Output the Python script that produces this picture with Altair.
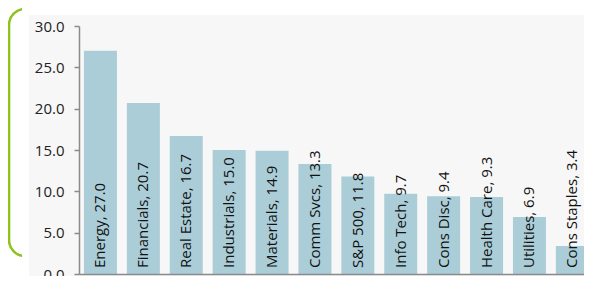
import altair as alt
import pandas as pd

sectors = ["Energy", "Financials", "Real Estate", "Industrials", "Materials", "Comm Svcs",
           "S&P 500", "Info Tech", "Cons Disc", "Health Care", "Utilities", "Cons Staples"]
values = [27.0, 20.7, 16.7, 15.0, 14.9, 13.3, 11.8, 9.7, 9.4, 9.3, 6.9, 3.4]
y_ticks = [0, 5, 10, 15, 20, 25, 30]

df = pd.DataFrame({"sector": sectors, "value": values})
df["pos"] = list(range(len(sectors)))
df["label"] = [f"{s}, {v:.1f}" for s, v in zip(sectors, values)]

FONT = "Open Sans"
PLOT_H = 248
PLOT_W = 505
STEP = 42.9           # px per category slot
BAR_W = 33.0

deco = alt.Data(values=[{"k": 1}])

bracket = alt.Chart(deco).mark_rect(
    fill=None, stroke="#8dc21f", strokeWidth=2.6, cornerRadius=16
).encode(
    x=alt.value(-70), x2=alt.value(-19), y=alt.value(-17), y2=alt.value(230)
)

trim = alt.Chart(deco).mark_rect(fill="white").encode(
    x=alt.value(-57), x2=alt.value(700), y=alt.value(-40), y2=alt.value(400)
)

panel = alt.Chart(deco).mark_rect(fill="#f7f7f7").encode(
    x=alt.value(-50), x2=alt.value(700), y=alt.value(-11), y2=alt.value(400)
)

xscale = alt.Scale(domain=[-0.5, -0.5 + PLOT_W / STEP], nice=False, zero=False, padding=0)

bars = alt.Chart(df).mark_bar(color="#abcdd8", size=BAR_W).encode(
    x=alt.X("pos:Q", scale=xscale,
            axis=alt.Axis(title=None, labels=False, ticks=False, grid=False,
                          domainColor="#8a8a8a", domainWidth=1.5, zindex=1)),
    y=alt.Y("value:Q", scale=alt.Scale(domain=[0, 30], nice=False),
            axis=alt.Axis(title=None, values=y_ticks, format=".1f", tickSize=5,
                          labelPadding=10, domainColor="#8a8a8a", tickColor="#8a8a8a",
                          domainWidth=1.5, tickWidth=1.5, grid=False,
                          labelFont=FONT, labelFontSize=15, labelColor="#222222",
                          zindex=1)),
    tooltip=["sector:N", "value:Q"]
)

labels = alt.Chart(df).mark_text(
    angle=270, align="left", baseline="middle", font=FONT, fontSize=15, color="#111111"
).encode(
    x=alt.X("pos:Q", scale=xscale),
    y=alt.value(PLOT_H - 6),
    text="label:N"
)

chart = alt.layer(bracket, trim, panel, bars, labels).properties(
    width=PLOT_W, height=PLOT_H,
    autosize=alt.AutoSizeParams(type="none"),
    padding={"left": 71, "top": 18, "right": 0, "bottom": 2},
    background="white"
).configure_view(stroke=None)

chart.save("out.html", embed_options={"renderer": "svg", "actions": False})
